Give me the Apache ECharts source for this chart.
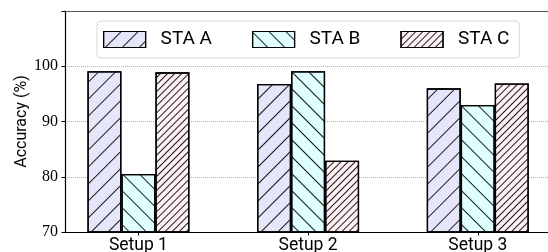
<!DOCTYPE html>
<html>
<head>
<meta charset="utf-8">
<script src="https://cdn.jsdelivr.net/npm/echarts@6/dist/echarts.min.js"></script>
<style>
  html, body { margin: 0; padding: 0; background: #fff; }
  #chart { width: 548px; height: 252px; }
</style>
</head>
<body>
<div id="chart"></div>
<script>
var setups = ['Setup 1', 'Setup 2', 'Setup 3'];
var staA = [99.1, 96.8, 96.0];
var staB = [80.5, 99.1, 93.0];
var staC = [98.9, 82.9, 96.9];
var yTicks = [70, 80, 90, 100];

var chart = echarts.init(document.getElementById('chart'));

// hatch patterns, like matplotlib '/', '\\' and '////'
function hatch(gap, rot) {
    return {
        symbol: 'rect',
        symbolSize: 1,
        color: '#1a1a1a',
        dashArrayX: [1, 0],
        dashArrayY: [1, gap],
        rotation: rot
    };
}

function barSeries(name, data, fill, decal) {
    return {
        name: name,
        type: 'bar',
        xAxisIndex: 2,
        yAxisIndex: 1,
        data: data,
        barWidth: 34,
        barGap: '0%',
        itemStyle: {
            color: fill,
            borderColor: '#000',
            borderWidth: 1.3,
            decal: decal
        }
    };
}

var option = {
    animation: false,
    textStyle: { fontFamily: 'Roboto' },
    legend: {
        left: 97,
        top: 21,
        icon: 'rect',
        itemWidth: 42,
        itemHeight: 16,
        itemGap: 40,
        padding: [9, 10, 9, 6],
        backgroundColor: '#fff',
        borderColor: '#d8d8d8',
        borderWidth: 1,
        borderRadius: 4,
        itemStyle: { borderWidth: 1.2 },
        textStyle: { fontSize: 19, color: '#000', fontFamily: 'Roboto', padding: [0, 0, 0, 10] },
        data: ['STA A', 'STA B', 'STA C']
    },
    grid: [
        // frame with y axis
        { left: 65, width: 486, top: 11, bottom: 20, outerBoundsMode: 'none', containLabel: false },
        // bars (matplotlib xlim -0.43..2.43)
        { left: 53.6, width: 509, top: 11, bottom: 20, outerBoundsMode: 'none', containLabel: false }
    ],
    xAxis: [
        {
            gridIndex: 0, type: 'value', min: 0, max: 1, position: 'bottom',
            axisLine: { lineStyle: { color: '#000', width: 1.2 } },
            axisTick: { show: false }, axisLabel: { show: false }, splitLine: { show: false }
        },
        {
            gridIndex: 0, type: 'value', min: 0, max: 1, position: 'top',
            axisLine: { lineStyle: { color: '#555', width: 1.2 } },
            axisTick: { show: false }, axisLabel: { show: false }, splitLine: { show: false }
        },
        {
            gridIndex: 1, type: 'category', data: setups,
            axisLine: { show: false },
            axisTick: { show: true, alignWithLabel: true, length: 3.5, lineStyle: { color: '#000' } },
            axisLabel: { color: '#000', fontSize: 17.5, margin: 5, fontFamily: 'Roboto' }
        }
    ],
    yAxis: [
        {
            gridIndex: 0, type: 'value', min: 70, max: 110, interval: 10,
            name: 'Accuracy (%)', nameLocation: 'middle', nameGap: 35, nameMoveOverlap: false,
            nameTextStyle: { fontSize: 16, color: '#000', fontFamily: 'Roboto' },
            axisLine: { show: true, lineStyle: { color: '#000', width: 1.2 } },
            axisTick: { show: true, length: 3.5, lineStyle: { color: '#000' } },
            axisLabel: {
                color: '#000', fontSize: 16, margin: 7, fontFamily: 'Liberation Serif',
                formatter: function (v) { return yTicks.indexOf(v) >= 0 ? String(v) : ''; }
            },
            splitLine: { show: true, lineStyle: { color: '#b0b0b0', type: [1, 1], width: 1 } }
        },
        {
            gridIndex: 1, type: 'value', min: 70, max: 110, show: false
        }
    ],
    series: [
        barSeries('STA A', staA, '#e6e6fa', hatch(11, -Math.PI / 4)),
        barSeries('STA B', staB, '#e0ffff', hatch(11, Math.PI / 4)),
        barSeries('STA C', staC, '#fff0f5', hatch(4, -Math.PI / 4))
    ]
};

chart.setOption(option);
</script>
</body>
</html>
